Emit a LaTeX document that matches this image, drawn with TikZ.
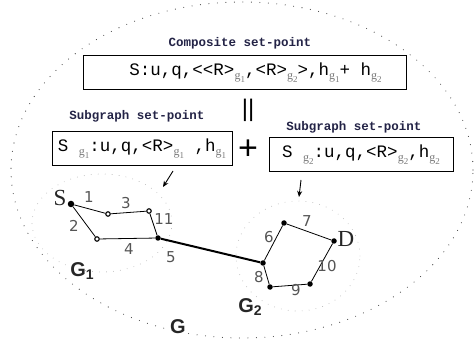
\documentclass[tikz,border=0pt]{standalone}
\usepackage{fontspec}
\setmainfont{Liberation Serif}
\setmonofont{Liberation Mono}
\setsansfont{DejaVu Sans}
\newfontfamily\glabelfont{Liberation Sans}
\usetikzlibrary{arrows.meta}
\definecolor{titlenavy}{RGB}{35,35,70}
\definecolor{subgray}{RGB}{120,120,120}
\definecolor{numgray}{RGB}{85,85,85}
\newcommand{\gsub}[1]{\raisebox{-0.45ex}{\rmfamily\color{subgray}\fontsize{12}{12}\selectfont g\raisebox{-0.55ex}{\fontsize{9}{9}\selectfont #1}}}

\begin{document}
\begin{tikzpicture}[x=1pt, y=-1pt,
    every node/.style={inner sep=0pt},
    titletext/.style={font=\ttfamily\bfseries\fontsize{12.5}{14}\selectfont, text=titlenavy},
    spbox/.style={draw=black, line width=1pt, minimum height=34pt,
                  font=\ttfamily\fontsize{17.5}{19}\selectfont},
    bigdots/.style={draw=black!75, line width=1.1pt, line cap=round, dash pattern=on 0pt off 8.5pt},
    subdots/.style={draw=black!30, line width=0.9pt, line cap=round, dash pattern=on 0pt off 7pt},
    fullvertex/.style={circle, fill=black, minimum size=5.5pt},
    openvertex/.style={circle, draw=black, fill=white, line width=1.1pt, minimum size=4.5pt},
    edgelabel/.style={font=\sffamily\fontsize{15}{15}\selectfont, text=numgray},
    endlabel/.style={font=\fontsize{23}{23}\selectfont, text=black!85},
    glabel/.style={font=\glabelfont\bfseries\fontsize{20}{20}\selectfont, text=black!85},
    link/.style={draw=black, line width=0.8pt},
    hint/.style={draw=black, line width=0.9pt, -{Stealth[length=6pt, width=5pt]}}
]
  \useasboundingbox (0,0) rectangle (474,339);

  % graph G and its two subgraphs
  \draw[bigdots] (242,170) ellipse [x radius=231pt, y radius=168pt];
  \draw[subdots] (102,223) ellipse [x radius=70pt, y radius=49pt];
  \draw[subdots] (298,256) ellipse [x radius=62pt, y radius=55pt];

  % composite set-point
  \node[titletext] (comp-title) at (240,43) {Composite set-point};
  \node[spbox, minimum width=323pt] (comp-box) at (244.5,72.5)
    {\hspace*{22pt}S:u,q,<<R>\gsub{1},<R>\gsub{2}>,h\gsub{1}+ h\gsub{2}};
  \node[font=\glabelfont\fontsize{24}{24}\selectfont] (equal) at (248,110) {||};

  % subgraph set-points
  \node[titletext] (sub1-title) at (137,116) {Subgraph set-point};
  \node[spbox, minimum width=180pt] (sub1-box) at (142,149)
    {S \gsub{1}:u,q,<R>\gsub{1} ,h\gsub{1}};
  \node[font=\glabelfont\fontsize{34}{34}\selectfont] (plus) at (248,150) {+};
  \node[titletext] (sub2-title) at (354,127) {Subgraph set-point};
  \node[spbox, minimum width=184pt] (sub2-box) at (361,155)
    {S \gsub{2}:u,q,<R>\gsub{2},h\gsub{2}};

  \coordinate (hint1-a) at (173,171);
  \coordinate (hint1-b) at (163,187);
  \coordinate (hint2-a) at (301,180);
  \coordinate (hint2-b) at (299,197);
  \draw[hint] (hint1-a) -- (hint1-b);
  \draw[hint] (hint2-a) -- (hint2-b);

  % subgraph G1
  \node[fullvertex, minimum size=6.5pt] (s)  at (71,204) {};
  \node[openvertex] (v1)  at (108,214) {};
  \node[openvertex] (v3)  at (149,211) {};
  \node[openvertex] (v2)  at (97,239) {};
  \node[fullvertex] (v5)  at (158,238) {};
  \draw[link] (s) -- (v1) -- (v3) -- (v5);
  \draw[link] (s) -- (v2) -- (v5);

  % subgraph G2
  \node[fullvertex] (v8)  at (263,263) {};
  \node[fullvertex] (v6)  at (284,223) {};
  \node[fullvertex] (d)   at (334,241) {};
  \node[fullvertex] (v10) at (310,284) {};
  \node[fullvertex] (v9)  at (270,287) {};
  \draw[link] (v8) -- (v6) -- (d) -- (v10) -- (v9) -- (v8);

  % link between the subgraphs
  \draw[draw=black, line width=2pt] (v5) -- (v8);

  % labels
  \node[endlabel] (s-label) at (60,198) {S};
  \node[endlabel] (d-label) at (346,239) {D};
  \node[edgelabel] at (89,197) {1};
  \node[edgelabel] at (126,203) {3};
  \node[edgelabel] at (74,226) {2};
  \node[edgelabel] at (164,219) {11};
  \node[edgelabel] at (129,249) {4};
  \node[edgelabel] at (171,257) {5};
  \node[edgelabel] at (307,221) {7};
  \node[edgelabel] at (269,237) {6};
  \node[edgelabel] at (327,266) {10};
  \node[edgelabel] at (259,277) {8};
  \node[edgelabel] at (296,290) {9};
  \node[glabel] (g1-label) at (82,271) {G\raisebox{-0.35ex}{\fontsize{14}{14}\selectfont 1}};
  \node[glabel] (g2-label) at (250,307) {G\raisebox{-0.35ex}{\fontsize{14}{14}\selectfont 2}};
  \node[glabel] (g-label)  at (178,327) {G};
\end{tikzpicture}
\end{document}
